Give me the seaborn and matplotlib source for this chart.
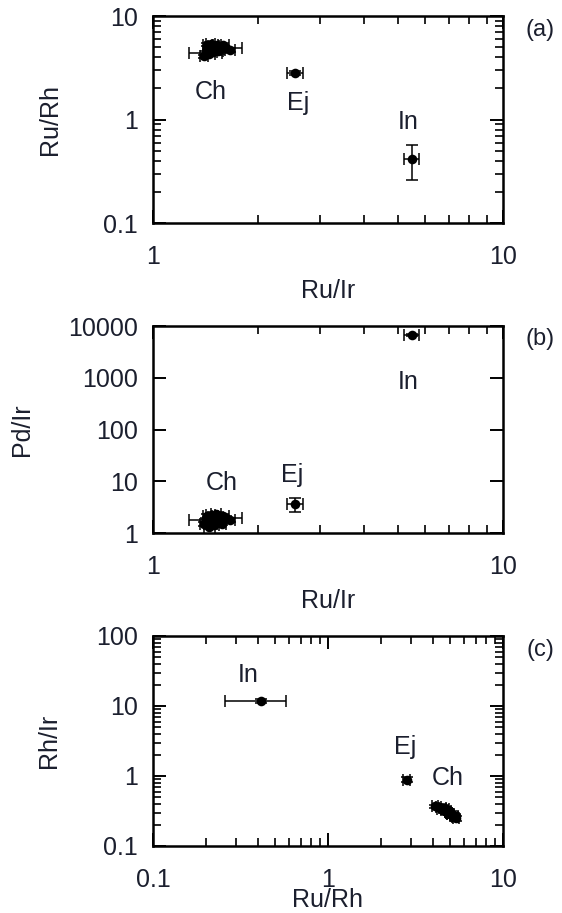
import pandas as pd
import matplotlib
matplotlib.use("Agg")
import matplotlib.pyplot as plt
import seaborn as sns
from matplotlib.ticker import LogLocator, NullFormatter

# ── Data ──────────────────────────────────────────────────────────────────────

# Ch cluster: one entry per sample
ch_ru_ir = [1.40, 1.42, 1.43, 1.44, 1.45, 1.45, 1.46, 1.47, 1.48, 1.49,
            1.50, 1.51, 1.52, 1.53, 1.54, 1.55, 1.57, 1.59, 1.62, 1.66]
ch_ru_ir_err = [0.04, 0.15, 0.04, 0.05, 0.04, 0.05, 0.04, 0.05, 0.04, 0.05,
                0.04, 0.05, 0.04, 0.05, 0.04, 0.05, 0.05, 0.06, 0.18, 0.05]
ch_ru_rh = [4.1, 4.4, 5.3, 4.6, 5.0, 4.3, 5.4, 4.8, 4.5, 5.1,
            4.9, 4.7, 5.2, 4.6, 5.0, 4.8, 4.9, 5.3, 4.9, 4.7]
ch_ru_rh_err = [0.15, 0.2, 0.2, 0.15, 0.2, 0.15, 0.2, 0.15, 0.2, 0.15,
                0.2, 0.15, 0.2, 0.15, 0.2, 0.15, 0.2, 0.2, 0.15, 0.2]
ch_pd_ir = [1.5, 1.8, 2.1, 1.6, 1.9, 1.3, 2.2, 1.7, 2.0, 1.4,
            1.8, 2.3, 1.6, 1.9, 2.0, 1.7, 1.5, 2.1, 1.95, 1.8]
ch_pd_ir_err = [0.15, 0.15, 0.2, 0.15, 0.15, 0.1, 0.2, 0.15, 0.2, 0.1,
                0.15, 0.2, 0.15, 0.15, 0.2, 0.15, 0.1, 0.2, 0.15, 0.15]
ch_rh_ir = [0.37, 0.34, 0.27, 0.33, 0.29, 0.36, 0.25, 0.31, 0.35, 0.28,
            0.30, 0.33, 0.27, 0.34, 0.29, 0.31, 0.30, 0.26, 0.32, 0.34]
ch_rh_ir_err = [0.02, 0.02, 0.02, 0.02, 0.02, 0.02, 0.02, 0.02, 0.02, 0.02,
                0.02, 0.02, 0.02, 0.02, 0.02, 0.02, 0.02, 0.02, 0.02, 0.02]

# Ej and In: single samples
ej_ru_ir, ej_ru_ir_err = [2.55], [0.13]
ej_ru_rh, ej_ru_rh_err = [2.81], [0.12]
ej_pd_ir, ej_pd_ir_err = [3.65], [1.15]
ej_rh_ir, ej_rh_ir_err = [0.89], [0.08]

in_ru_ir, in_ru_ir_err = [5.48], [0.27]
in_ru_rh, in_ru_rh_err = [0.415], [0.157]
in_pd_ir, in_pd_ir_err = [6700], [400]
in_rh_ir, in_rh_ir_err = [11.8], [0.8]

group_names = ["Ch", "Ej", "In"]

# ── Style ─────────────────────────────────────────────────────────────────────

sns.set_style("ticks")
plt.rcParams['font.family'] = ['Liberation Sans', 'DejaVu Sans']
TXT = "#1b1f2e"
FS = 18


def draw_group(ax, x, y, xerr, yerr):
    ax.errorbar(x, y, xerr=xerr, yerr=yerr, fmt="none", ecolor="black",
                elinewidth=1.1, capsize=4.2, capthick=1.1, zorder=2)
    sns.scatterplot(x=x, y=y, color="black", s=48, linewidth=0, ax=ax,
                    zorder=3, legend=False)


def style_axis(ax, xlim, ylim, xticks, yticks, xlabel, ylabel, ylab_x, xlab_y, tag):
    ax.set_xscale("log")
    ax.set_yscale("log")
    ax.set_xlim(*xlim)
    ax.set_ylim(*ylim)
    ax.set_xticks(xticks)
    ax.set_xticklabels([f"{t:g}" for t in xticks])
    ax.set_yticks(yticks)
    ax.set_yticklabels([f"{t:g}" for t in yticks])
    ax.xaxis.set_minor_locator(LogLocator(base=10, subs=range(2, 10)))
    ax.yaxis.set_minor_locator(LogLocator(base=10, subs=range(2, 10)))
    ax.xaxis.set_minor_formatter(NullFormatter())
    ax.yaxis.set_minor_formatter(NullFormatter())
    ax.tick_params(which="both", direction="in", top=True, right=True,
                   colors="black", labelcolor=TXT, labelsize=FS)
    ax.tick_params(which="major", length=9.5, width=1.4)
    ax.tick_params(which="minor", length=5.8, width=1.2)
    ax.tick_params(axis="y", which="major", pad=11)
    ax.tick_params(axis="x", which="major", pad=16)
    for s in ax.spines.values():
        s.set_linewidth(1.8)
        s.set_color("black")
    ax.set_xlabel(xlabel, fontsize=FS, color=TXT)
    ax.set_ylabel(ylabel, fontsize=FS, color=TXT)
    ax.yaxis.set_label_coords(ylab_x, 0.5)
    ax.xaxis.set_label_coords(0.5, xlab_y)
    ax.text(1.106, 0.935, tag, transform=ax.transAxes, fontsize=FS - 1,
            color=TXT, ha="center", va="center")


fig = plt.figure(figsize=(5.62, 9.13), dpi=100)
ax_a = fig.add_axes([0.2722, 0.7557, 0.6228, 0.2267])
ax_b = fig.add_axes([0.2722, 0.4162, 0.6228, 0.2267])
ax_c = fig.add_axes([0.2722, 0.0734, 0.6228, 0.2300])

# (a) Ru/Rh vs Ru/Ir
draw_group(ax_a, ch_ru_ir, ch_ru_rh, ch_ru_ir_err, ch_ru_rh_err)
draw_group(ax_a, ej_ru_ir, ej_ru_rh, ej_ru_ir_err, ej_ru_rh_err)
draw_group(ax_a, in_ru_ir, in_ru_rh, in_ru_ir_err, in_ru_rh_err)
style_axis(ax_a, (1, 10), (0.1, 10), [1, 10], [0.1, 1, 10],
           "Ru/Ir", "Ru/Rh", -0.26, -0.27, "(a)")
for name, (tx, ty) in zip(group_names, [(1.46, 1.85), (2.6, 1.44), (5.35, 0.95)]):
    ax_a.text(tx, ty, name, fontsize=FS, color=TXT, ha="center", va="center")

# (b) Pd/Ir vs Ru/Ir
draw_group(ax_b, ch_ru_ir, ch_pd_ir, ch_ru_ir_err, ch_pd_ir_err)
draw_group(ax_b, ej_ru_ir, ej_pd_ir, ej_ru_ir_err, ej_pd_ir_err)
draw_group(ax_b, in_ru_ir, in_pd_ir, in_ru_ir_err, in_pd_ir_err)
style_axis(ax_b, (1, 10), (1, 10000), [1, 10], [1, 10, 100, 1000, 10000],
           "Ru/Ir", "Pd/Ir", -0.34, -0.27, "(b)")
for name, (tx, ty) in zip(group_names, [(1.57, 9.2), (2.5, 13.2), (5.35, 830)]):
    ax_b.text(tx, ty, name, fontsize=FS, color=TXT, ha="center", va="center")

# (c) Rh/Ir vs Ru/Rh
draw_group(ax_c, ch_ru_rh, ch_rh_ir, ch_ru_rh_err, ch_rh_ir_err)
draw_group(ax_c, ej_ru_rh, ej_rh_ir, ej_ru_rh_err, ej_rh_ir_err)
draw_group(ax_c, in_ru_rh, in_rh_ir, in_ru_rh_err, in_rh_ir_err)
style_axis(ax_c, (0.1, 10), (0.1, 100), [0.1, 1, 10], [0.1, 1, 10, 100],
           "Ru/Rh", "Rh/Ir", -0.264, -0.2, "(c)")
for name, (tx, ty) in zip(group_names, [(4.85, 0.94), (2.76, 2.6), (0.349, 27.7)]):
    ax_c.text(tx, ty, name, fontsize=FS, color=TXT, ha="center", va="center")

fig.savefig("out.png", dpi=100)
plt.close(fig)
